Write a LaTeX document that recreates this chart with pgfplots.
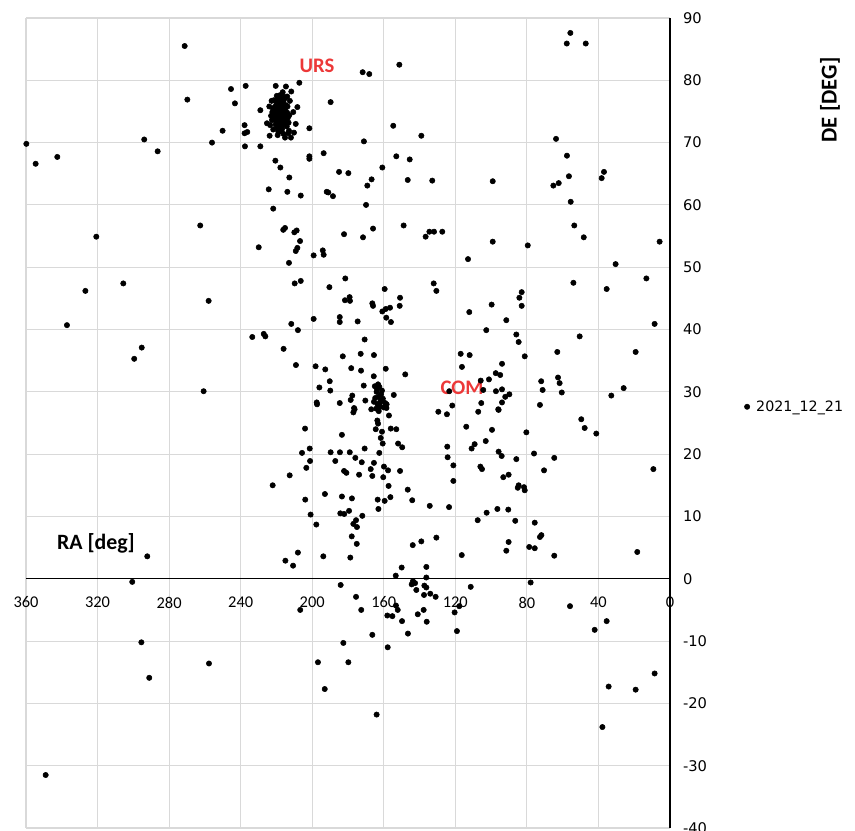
\documentclass[border=0pt]{standalone}
\usepackage{pgfplots}
\pgfplotsset{compat=1.18}
\usepackage{fontspec}
\setmainfont{Carlito}
\newfontfamily\dejavu{DejaVu Sans}
\definecolor{gridgray}{RGB}{217,217,217}
\definecolor{lblred}{RGB}{236,56,56}
\begin{document}
\begin{tikzpicture}
\begin{axis}[
  scale only axis, width=483pt, height=607.5pt,
  x dir=reverse, xmin=0, xmax=360, ymin=-40, ymax=90,
  axis x line=middle, axis y line=middle,
  axis line style={-, black, line width=0.8pt},
  hide obscured x ticks=false, hide obscured y ticks=false,
  xtick={0,40,...,360}, ytick={-40,-30,...,90},
  major tick length=0pt,
  grid=major, major grid style={gridgray, line width=0.8pt},
  /pgf/number format/assume math mode=true,
  xticklabel style={font=\fontsize{12.3}{14}\selectfont, anchor=north, yshift=-10pt},
  yticklabel style={font=\dejavu\fontsize{11}{13}\selectfont, anchor=west, xshift=6.3pt},
  clip=false,
  legend style={at={(axis description cs:1.109,0.52)}, anchor=west, draw=none, fill=none,
    font=\dejavu\fontsize{10.7}{12}\selectfont},
  legend image code/.code={\path[draw=none,fill=none] (0cm,0cm) rectangle (0.22cm,0.01cm); \draw[#1] plot coordinates {(0.05cm,0cm)};},
]
\addplot[only marks, mark=*, mark size=2pt, black] coordinates {
(271.3,85.5) (269.8,76.9) (245.4,78.6) (243.2,76.3) (250.1,71.9) (256.0,70.0) (293.9,70.5) (286.4,68.6) (359.8,69.8) (354.6,66.6) (342.5,67.7)
(171.8,81.3) (168.1,81.0) (151.3,82.5) (237.2,79.1) (220.4,79.1) (214.7,79.0) (207.2,79.6) (211.7,78.2) (216.5,78.1) (222.7,76.7) (229.0,75.2) (208.3,75.7) (210.6,74.9) (225.3,73.1) (237.8,72.8) (237.8,71.5) (236.3,71.7) (209.2,73.0) (201.6,72.3) (223.8,71.1) (219.3,71.2) (215.2,70.8) (211.9,70.8) (210.2,71.6) (213.4,71.5) (189.7,76.5) (154.7,72.7) (139.0,71.1) (171.1,70.2) (237.6,69.4) (229.0,69.4) (201.6,67.8) (201.6,67.4) (193.6,68.3) (220.6,67.1) (217.8,66.0) (212.8,64.4) (224.3,62.5) (213.9,62.1) (206.4,61.5) (191.9,62.1) (191.0,62.0) (188.4,61.4) (185.0,65.3) (179.8,65.1) (160.8,66.0) (153.0,67.8) (145.5,67.3) (166.8,64.1) (169.2,63.1) (146.6,64.0) (132.9,63.9) (221.8,59.4) (169.9,60.0)
(218.0,74.7) (217.0,75.3) (219.0,74.1) (216.5,73.8) (218.5,75.9) (220.0,75.0) (215.5,74.9) (217.5,73.2) (219.5,76.4) (216.0,76.2) (221.0,73.9) (214.5,73.5) (218.2,72.6) (220.5,72.9) (216.8,72.2) (222.0,75.5) (213.8,75.8) (217.8,76.9) (215.0,77.2) (219.8,77.5) (223.0,74.3) (212.8,74.4) (221.5,76.8) (214.2,72.6) (219.0,71.8) (216.0,71.4) (223.5,72.8) (212.5,76.7) (218.8,73.5) (217.2,74.2) (220.8,74.4) (215.8,75.6) (218.0,76.3) (216.7,77.8) (221.8,72.1) (214.0,77.4) (219.3,72.9) (213.2,73.2) (222.5,73.6) (217.5,71.8) (215.2,73.0) (220.2,76.0) (218.6,77.1) (213.0,71.9) (224.0,75.8) (216.3,75.0) (219.9,73.3) (217.9,72.9) (215.9,76.8) (221.2,75.4)
(217.4,74.0) (218.4,74.3) (216.8,74.6) (219.2,75.2) (217.6,75.9) (216.2,75.4) (218.9,76.0) (220.4,74.0) (215.4,74.2) (217.0,73.5) (218.6,72.9) (216.0,72.9) (219.6,72.4) (220.9,75.7) (214.6,76.0) (217.2,76.5) (219.1,77.0) (215.6,73.6) (221.6,74.6) (214.0,74.8) (218.3,73.7) (216.6,75.9) (220.3,73.6) (217.7,72.3) (215.0,75.4) (219.7,74.6) (222.3,74.9) (213.6,74.0) (218.1,77.6) (216.1,77.0)
(55.7,87.6) (57.7,85.9) (47.1,85.9) (63.7,70.6) (57.6,67.9) (56.5,64.6) (65.2,63.1) (62.2,63.5) (55.5,60.5) (99.1,63.8) (38.2,64.3) (36.9,65.3)
(320.7,54.9) (262.6,56.7) (326.8,46.2) (305.6,47.4) (337.1,40.7) (257.9,44.6) (295.3,37.1) (299.5,35.3) (260.7,30.1)
(216.2,56.0) (215.2,56.3) (210.0,55.6) (208.7,55.9) (229.9,53.2) (206.8,54.2) (209.2,52.6) (208.3,53.1) (213.0,50.7) (199.2,51.9) (194.1,52.7) (193.6,52.0) (182.2,55.3) (171.6,54.8) (166.0,56.2) (148.9,56.7) (136.6,54.9) (134.5,55.7) (131.9,55.7) (127.3,55.7) (209.8,47.4) (206.4,47.8) (190.4,46.8) (181.5,48.2) (181.7,44.7) (179.1,45.2) (178.9,44.6) (166.4,44.2) (166.0,43.8) (159.5,46.5) (150.9,45.1) (151.1,43.8) (160.8,42.9) (158.9,43.3) (156.5,43.5) (158.6,41.9) (156.0,41.2) (132.1,47.4) (130.6,46.2) (199.2,41.7) (184.6,42.0) (184.6,41.2) (174.6,41.3) (211.7,40.9) (208.0,39.9) (233.5,38.8) (227.1,39.3) (226.2,38.9) (216.0,36.9) (209.1,34.3) (198.1,34.1) (192.7,33.6) (182.9,35.7) (172.9,36.1) (165.5,35.9) (170.7,38.4) (178.2,33.8) (172.7,33.4) (158.9,33.7) (165.6,32.5) (148.0,32.8) (190.2,31.7) (189.9,30.2) (196.0,30.7) (171.2,31.0) (154.4,29.5) (197.5,28.3) (197.3,28.0) (184.6,28.2) (178.5,28.7) (177.6,29.4) (170.3,28.6) (176.6,27.4) (158.4,28.0)
(99.1,54.1) (79.5,53.5) (112.9,51.3) (53.5,56.7) (48.2,54.8) (5.8,54.1) (30.4,50.5) (54.0,47.5) (35.4,46.5) (13.2,48.2) (82.9,46.0) (84.2,45.1) (82.9,43.8) (99.7,44.0) (112.2,42.8) (91.5,41.5) (102.7,39.9) (85.9,39.2) (84.6,38.0) (50.5,38.9) (8.6,40.9) (117.0,36.1) (112.0,35.9) (116.3,34.0) (81.2,35.7) (63.0,36.4) (19.2,36.4) (93.9,34.5) (97.4,33.0) (94.9,32.7) (101.2,32.0) (105.8,31.8) (104.4,30.3) (97.3,30.1) (93.9,30.4) (92.1,29.2) (89.8,29.6) (93.9,28.3) (105.5,28.2) (121.7,27.8) (123.4,30.1) (96.0,27.2) (72.0,31.7) (71.2,30.3) (72.7,27.9) (62.6,32.3) (61.7,31.4) (60.5,29.9) (32.8,29.4) (25.9,30.6)
(292.2,3.6) (300.6,-0.5)
(177.0,26.7) (176.3,27.2) (167.0,27.2) (129.5,26.8) (124.7,26.4) (124.5,21.2) (124.3,19.5) (123.5,11.5) (204.0,24.1) (183.4,23.1) (163.6,25.4) (163.2,24.9) (164.5,24.0) (161.0,23.6) (161.7,22.6) (160.6,21.7) (157.1,26.2) (156.1,24.1) (153.0,24.0) (152.0,21.7) (149.7,21.1) (205.7,20.2) (201.4,20.9) (201.2,18.9) (203.3,17.8) (212.6,16.6) (222.1,15.0) (189.7,20.3) (184.5,20.3) (179.0,20.3) (187.1,18.9) (175.9,19.4) (170.7,20.9) (172.3,18.7) (165.5,18.6) (162.5,20.2) (159.9,18.0) (157.6,17.4) (182.2,17.3) (180.9,17.0) (173.8,16.7) (167.3,17.6) (166.4,16.5) (160.3,16.3) (150.9,17.3) (157.3,14.9) (146.6,14.3) (144.1,12.6) (134.3,11.7) (156.3,13.1) (163.4,12.7) (159.5,12.5) (163.0,11.2) (203.9,12.7) (192.9,13.6) (183.4,13.2) (177.8,12.9) (200.9,10.3) (197.7,8.7) (184.3,10.5) (182.1,10.4) (179.4,10.9) (172.0,10.1) (177.0,8.8) (175.5,9.4) (175.0,8.3) (177.9,6.8) (175.1,5.6) (178.7,3.4) (193.8,3.6) (208.0,4.2) (215.0,2.9) (210.7,2.1) (143.8,5.4) (139.0,6.0) (130.6,6.6) (150.0,1.8) (153.3,0.5) (136.2,1.9) (136.2,0.2) (143.7,-0.4) (144.4,-0.9) (142.5,-0.7) (141.8,-1.8) (137.3,-1.1) (136.2,-1.4) (137.5,-2.6) (134.0,-2.4) (131.0,-2.9) (184.1,-1.0) (175.5,-2.9)
(164.0,30.0) (163.0,29.2) (162.5,30.8) (161.8,28.5) (163.5,28.0) (164.8,29.0) (162.0,27.6) (160.5,28.9) (163.2,31.2) (161.0,30.2) (165.5,28.4) (160.0,27.5) (162.8,26.9) (164.2,27.3) (159.2,28.2) (161.5,29.6) (163.8,30.5) (165.0,30.9) (158.5,27.4) (162.2,28.2)
(107.2,26.8) (95.8,27.1) (113.9,24.4) (99.5,23.9) (80.3,23.5) (103.0,22.1) (110.9,20.9) (109.2,21.6) (121.1,18.2) (121.1,15.7) (95.8,20.4) (94.1,19.7) (85.9,19.2) (76.0,20.1) (64.7,19.4) (106.0,18.0) (105.1,17.6) (90.2,16.7) (93.2,16.3) (70.4,17.4) (84.6,15.0) (81.6,14.7) (85.1,14.6) (81.2,14.2) (96.5,11.2) (90.4,11.1) (102.5,10.6) (107.5,9.4) (86.5,9.3) (75.6,9.0) (90.2,5.9) (91.5,4.5) (72.7,6.7) (71.9,7.0) (78.7,5.1) (75.6,4.9) (64.7,3.7) (116.4,3.8) (49.6,25.6) (47.7,24.2) (41.2,23.3) (9.3,17.6) (18.3,4.3) (77.9,-0.6) (111.4,-1.3)
(206.7,-5.0) (295.5,-10.2) (291.1,-15.9) (257.7,-13.6) (182.6,-10.3) (196.8,-13.4) (179.8,-13.4) (193.0,-17.7) (349.0,-31.5)
(172.6,-5.0) (166.4,-9.0) (157.8,-11.0) (164.0,-21.8) (153.2,-4.3) (152.2,-5.0) (158.0,-5.9) (155.2,-6.0) (149.8,-6.8) (146.5,-8.8) (141.0,-5.7) (137.7,-5.0) (136.0,-6.9) (120.4,-5.4) (119.1,-8.4) (117.8,-4.4) (55.9,-4.4) (42.1,-8.2) (35.4,-6.8) (34.3,-17.3) (19.2,-17.8) (8.6,-15.2) (37.8,-23.8)
};
\addlegendentry{2021\_12\_21}
\node[font=\bfseries\fontsize{15.5}{18}\selectfont, text=lblred] at (axis cs:197.3,82.3) {URS};
\node[font=\bfseries\fontsize{15.5}{18}\selectfont, text=lblred] at (axis cs:116.3,30.6) {COM};
\node[font=\bfseries\fontsize{16.4}{19}\selectfont] at (axis cs:320.9,5.6) {RA [deg]};
\node[rotate=90, font=\bfseries\fontsize{17}{20}\selectfont] at (axis description cs:1.2484,0.8988) {DE [DEG]};
\coordinate (bl) at (axis cs:360,-40);
\coordinate (tr) at (axis cs:0,90);
\end{axis}
\pgfresetboundingbox
\path[use as bounding box] ([shift={(-19.5pt,-2.25pt)}]bl) rectangle ([shift={(138.75pt,13.5pt)}]tr);
\end{tikzpicture}
\end{document}
